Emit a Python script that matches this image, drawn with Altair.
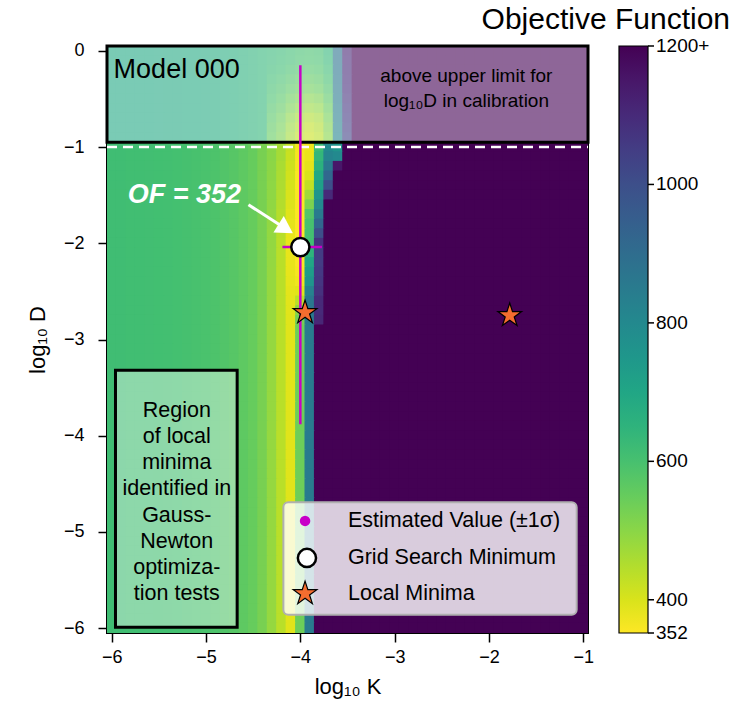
import altair as alt
import pandas as pd

# ---------------- grid (cell centres) ----------------
K_GRID = [round(-6.0 + 0.1 * i, 1) for i in range(51)]   # log10 K
D_GRID = [round(0.0 - 0.1 * j, 1) for j in range(61)]    # log10 D

# objective function
# columns -6.0 .. -4.4 (constant along log10 D inside each region)
TOP_LEFT = [692, 692, 691, 690, 690, 689, 688, 687, 685, 683, 680, 676, 671, 665, 658, 650, 640]
LOW_LEFT = [612, 612, 611, 610, 609, 608, 606, 604, 601, 598, 594, 589, 582, 573, 562, 550, 525]

# ridge columns -4.3 .. -3.4, one list per row of log10 D
RIDGE_COLS = [-4.3, -4.2, -4.1, -4.0, -3.9, -3.8, -3.7, -3.6, -3.5, -3.4]
RIDGE_ROWS = {
    0.0:  [632, 626, 616, 606, 600, 606, 640, 880, 1110, 1300],
    -0.1: [630, 622, 612, 602, 596, 602, 632, 876, 1105, 1300],
    -0.2: [624, 614, 600, 588, 580, 588, 620, 870, 1100, 1300],
    -0.3: [615, 602, 584, 568, 560, 570, 605, 865, 1095, 1300],
    -0.4: [606, 590, 568, 550, 540, 552, 590, 860, 1090, 1300],
    -0.5: [596, 575, 545, 520, 508, 520, 570, 850, 1080, 1300],
    -0.6: [585, 560, 525, 495, 482, 495, 550, 845, 1070, 1300],
    -0.7: [572, 542, 500, 465, 452, 468, 530, 840, 1060, 1300],
    -0.8: [562, 530, 482, 445, 432, 450, 515, 830, 1050, 1300],
    -0.9: [555, 520, 470, 432, 422, 440, 505, 820, 1040, 1300],
    -1.0: [500, 465, 425, 365, 375, 620, 800, 760, 1300, 1300],
    -1.1: [500, 465, 420, 362, 378, 640, 820, 800, 1300, 1300],
    -1.2: [498, 460, 415, 360, 385, 660, 860, 1150, 1300, 1300],
    -1.3: [496, 458, 410, 358, 400, 690, 920, 1300, 1300, 1300],
    -1.4: [495, 455, 405, 357, 430, 720, 1000, 1300, 1300, 1300],
    -1.5: [494, 452, 400, 356, 470, 760, 1100, 1300, 1300, 1300],
    -1.6: [492, 448, 395, 355, 520, 800, 1300, 1300, 1300, 1300],
    -1.7: [490, 445, 390, 354, 580, 850, 1300, 1300, 1300, 1300],
    -1.8: [490, 443, 385, 353, 600, 920, 1300, 1300, 1300, 1300],
    -1.9: [488, 442, 382, 353, 605, 1000, 1300, 1300, 1300, 1300],
    -2.0: [488, 440, 380, 352, 610, 1080, 1300, 1300, 1300, 1300],
    -2.1: [487, 440, 380, 353, 650, 1050, 1300, 1300, 1300, 1300],
    -2.2: [487, 440, 380, 355, 700, 1050, 1300, 1300, 1300, 1300],
    -2.3: [486, 440, 382, 360, 730, 1060, 1300, 1300, 1300, 1300],
    -2.4: [486, 440, 384, 370, 760, 1070, 1300, 1300, 1300, 1300],
    -2.5: [485, 440, 386, 390, 830, 1080, 1300, 1300, 1300, 1300],
    -2.6: [485, 440, 388, 440, 860, 1100, 1300, 1300, 1300, 1300],
    -2.7: [485, 440, 389, 500, 860, 1100, 1300, 1300, 1300, 1300],
    -2.8: [485, 440, 390, 530, 855, 1110, 1300, 1300, 1300, 1300],
}
RIDGE_DEEP = [485, 440, 390, 540, 850, 1300, 1300, 1300, 1300, 1300]  # rows -2.9 .. -6.0
RIGHT_VALUE = 1300  # columns -3.3 .. -1.0 (above the 1200 cap)

OF_MIN, OF_CAP = 352, 1200
CB_TICKS = [352, 400, 600, 800, 1000, 1200]
CB_LABELS = ["352", "400", "600", "800", "1000", "1200+"]

# markers
EST_K, EST_D = -4.0, -2.04
EST_D_LO, EST_D_HI = -3.88, -0.15
EST_K_LO, EST_K_HI = -4.19, -3.77
GRID_MIN_K, GRID_MIN_D = -4.0, -2.04
STAR_K = [-3.95, -1.78]
STAR_D = [-2.72, -2.75]

MAGENTA = "#c800c8"
ORANGE = "#f46d2f"
FONT = "Liberation Sans"
STAR = ("M0,-1L0.2245,-0.309L0.951,-0.309L0.363,0.118L0.588,0.809L0,0.382"
        "L-0.588,0.809L-0.363,0.118L-0.951,-0.309L-0.2245,-0.309Z")

rows = []
for d in D_GRID:
    for k in K_GRID:
        if k <= -4.35:
            idx = K_GRID.index(k)
            v = TOP_LEFT[idx] if d > -0.95 else LOW_LEFT[idx]
        elif k <= -3.35:
            ci = RIDGE_COLS.index(k)
            v = RIDGE_ROWS[d][ci] if d in RIDGE_ROWS else RIDGE_DEEP[ci]
        else:
            v = RIGHT_VALUE
        rows.append({"k": k, "d": d, "of": v})
df = pd.DataFrame(rows)
H = 0.056
df["k0"] = (df["k"] - H).clip(lower=-6.05)
df["k1"] = (df["k"] + H).clip(upper=-0.95)
df["d0"] = (df["d"] - H).clip(lower=-6.05)
df["d1"] = (df["d"] + H).clip(upper=0.05)

D_LO, D_HI = -6.05, 0.05
XS = alt.Scale(domain=[-6.05, -0.95], nice=False, zero=False)
YS = alt.Scale(domain=[D_LO, D_HI], nice=False, zero=False)

heat = alt.Chart(df).mark_rect(strokeWidth=0).encode(
    x=alt.X("k0:Q", scale=XS, axis=alt.Axis(title="log₁₀ K", values=[-6, -5, -4, -3, -2, -1], format="d")),
    x2="k1:Q",
    y=alt.Y("d0:Q", scale=YS, axis=alt.Axis(title="log₁₀ D", values=[0, -1, -2, -3, -4, -5, -6], format="d")),
    y2="d1:Q",
    color=alt.Color(
        "of:Q",
        scale=alt.Scale(scheme="viridis", reverse=True, domain=[OF_MIN, OF_CAP], clamp=True),
        legend=alt.Legend(
            title=None, orient="none", legendX=512, legendY=0,
            gradientLength=587, gradientThickness=29,
            gradientStrokeColor="black", gradientStrokeWidth=1.2,
            values=CB_TICKS, labelExpr="''", labelOpacity=0,
        ),
    ),
)

def box(k0, k1, d0, d1):
    return pd.DataFrame([{"k0": k0, "k1": k1, "d0": d0, "d1": d1}])

band = alt.Chart(box(-6.05, -0.95, -0.95, 0.05)).mark_rect(
    fill="white", fillOpacity=0.4, stroke="black", strokeWidth=3
).encode(x="k0:Q", x2="k1:Q", y="d0:Q", y2="d1:Q")

dash = alt.Chart(pd.DataFrame([{"k0": -6.05, "k1": -0.95, "d": -1.0}])).mark_rule(
    color="white", strokeWidth=2.5, strokeDash=[10, 6]
).encode(x="k0:Q", x2="k1:Q", y="d:Q")

region = alt.Chart(box(-5.96, -4.67, -5.99, -3.32)).mark_rect(
    fill="white", fillOpacity=0.4, stroke="black", strokeWidth=3
).encode(x="k0:Q", x2="k1:Q", y="d0:Q", y2="d1:Q")

legbox = alt.Chart(box(-4.18, -1.07, -5.86, -4.69)).mark_rect(
    fill="white", fillOpacity=0.8, stroke="#b0b0b0", strokeWidth=2, cornerRadius=5
).encode(x="k0:Q", x2="k1:Q", y="d0:Q", y2="d1:Q")

vbar = alt.Chart(pd.DataFrame([{"k": EST_K, "d0": EST_D_LO, "d1": EST_D_HI}])).mark_rule(
    color=MAGENTA, strokeWidth=2.5).encode(x="k:Q", y="d0:Q", y2="d1:Q")
hbar = alt.Chart(pd.DataFrame([{"d": EST_D, "k0": EST_K_LO, "k1": EST_K_HI}])).mark_rule(
    color=MAGENTA, strokeWidth=2.5).encode(y="d:Q", x="k0:Q", x2="k1:Q")
estpt = alt.Chart(pd.DataFrame([{"k": EST_K, "d": EST_D}])).mark_point(
    shape="circle", filled=True, color=MAGENTA, size=90, opacity=1).encode(x="k:Q", y="d:Q")
gmin = alt.Chart(pd.DataFrame([{"k": GRID_MIN_K, "d": GRID_MIN_D}])).mark_point(
    shape="circle", filled=True, fill="white", stroke="black", strokeWidth=2.5, size=330, opacity=1
).encode(x="k:Q", y="d:Q")
stars = alt.Chart(pd.DataFrame({"k": STAR_K, "d": STAR_D})).mark_point(
    shape=STAR, filled=True, fill=ORANGE, stroke="black", strokeWidth=1.2, size=620, opacity=1
).encode(x="k:Q", y="d:Q")

# legend entries
leg_dot = alt.Chart(pd.DataFrame([{"k": -3.95, "d": -4.885}])).mark_point(
    shape="circle", filled=True, color=MAGENTA, size=110, opacity=1).encode(x="k:Q", y="d:Q")
leg_circ = alt.Chart(pd.DataFrame([{"k": -3.93, "d": -5.27}])).mark_point(
    shape="circle", filled=True, fill="white", stroke="black", strokeWidth=2.5, size=330, opacity=1
).encode(x="k:Q", y="d:Q")
leg_star = alt.Chart(pd.DataFrame([{"k": -3.95, "d": -5.64}])).mark_point(
    shape=STAR, filled=True, fill=ORANGE, stroke="black", strokeWidth=1.2, size=620, opacity=1
).encode(x="k:Q", y="d:Q")
leg_txt = alt.Chart(pd.DataFrame({
    "k": [-3.495] * 3, "d": [-4.885, -5.27, -5.64],
    "t": ["Estimated Value (±1σ)", "Grid Search Minimum", "Local Minima"],
})).mark_text(align="left", baseline="middle", fontSize=21.5, font=FONT, color="black").encode(
    x="k:Q", y="d:Q", text="t:N")

model_txt = alt.Chart(pd.DataFrame([{"k": -5.98, "d": -0.2, "t": "Model 000"}])).mark_text(
    align="left", baseline="middle", fontSize=27, font=FONT, color="black").encode(x="k:Q", y="d:Q", text="t:N")
limit_txt = alt.Chart(pd.DataFrame({
    "k": [-2.24, -2.24], "d": [-0.26, -0.52],
    "t": ["above upper limit for", "log₁₀D in calibration"],
})).mark_text(align="center", baseline="middle", fontSize=19, font=FONT, color="black").encode(
    x="k:Q", y="d:Q", text="t:N")
of_txt = alt.Chart(pd.DataFrame([{"k": -5.23, "d": -1.5, "t": "OF = 352"}])).mark_text(
    align="center", baseline="middle", fontSize=27, font=FONT, fontWeight="bold", fontStyle="italic",
    color="white").encode(x="k:Q", y="d:Q", text="t:N")
arrow_line = alt.Chart(pd.DataFrame({"k": [-4.55, -4.2], "d": [-1.60, -1.82]})).mark_line(
    color="white", strokeWidth=3).encode(x="k:Q", y="d:Q")
arrow_head = alt.Chart(pd.DataFrame([{"k": -4.18, "d": -1.833}])).mark_point(
    shape="triangle", filled=True, color="white", size=380, angle=122, opacity=1).encode(x="k:Q", y="d:Q")
region_txt = alt.Chart(pd.DataFrame([{"k": -5.31, "d": -3.74,
    "t": "Region\nof local\nminima\nidentified in\nGauss-\nNewton\noptimiza-\ntion tests"}])).mark_text(
    align="center", baseline="middle", fontSize=21.5, font=FONT, color="black", lineBreak="\n", lineHeight=26.2
).encode(x="k:Q", y="d:Q", text="t:N")

# colour-bar ticks and labels, placed on the same vertical extent as the bar
cb_df = pd.DataFrame({"v": CB_TICKS, "lab": CB_LABELS})
cb_pos = f"{D_LO} + (datum.v - {OF_MIN}) / ({OF_CAP} - {OF_MIN}) * ({D_HI} - ({D_LO}))"
cb_ticks = alt.Chart(cb_df).transform_calculate(pos=cb_pos).mark_rule(
    color="black", strokeWidth=1.5).encode(y="pos:Q", x=alt.value(541), x2=alt.value(547))
cb_labels = alt.Chart(cb_df).transform_calculate(pos=cb_pos).mark_text(
    align="left", baseline="middle", fontSize=19, font=FONT, color="black").encode(
    y="pos:Q", x=alt.value(549), text="lab:N")

cb_title = alt.Chart(pd.DataFrame([{"t": "Objective Function"}])).mark_text(
    align="right", baseline="middle", fontSize=30, font=FONT, color="black").encode(
    x=alt.value(623), y=alt.value(-26), text="t:N")

chart = alt.layer(
    heat, band, dash, region, legbox, vbar, hbar, estpt, gmin, stars,
    leg_dot, leg_circ, leg_star, leg_txt, model_txt, limit_txt, of_txt,
    arrow_line, arrow_head, region_txt, cb_ticks, cb_labels, cb_title,
).properties(
    width=481, height=587,
    autosize=alt.AutoSizeParams(type="none"),
    padding={"left": 107, "top": 46, "right": 145, "bottom": 86},
).configure_view(
    stroke="black", strokeWidth=2
).configure_axis(
    domain=False, grid=False, ticks=True, tickColor="black", tickWidth=1.5, tickSize=9,
    labelFont=FONT, labelFontSize=18, labelColor="black",
    titleFont=FONT, titleFontSize=22, titleColor="black", titleFontWeight="normal",
).configure_axisX(labelPadding=6, titlePadding=10).configure_axisY(labelPadding=14, titlePadding=14)

chart.save("out.html", embed_options={"renderer": "svg", "actions": False})
